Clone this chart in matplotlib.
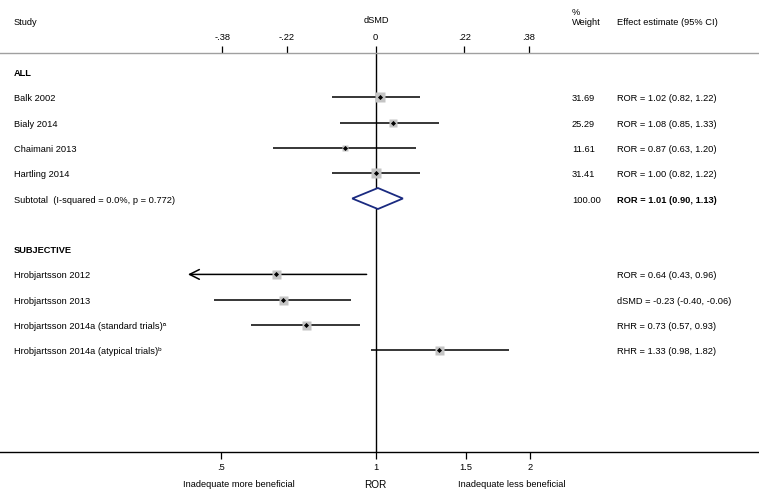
import numpy as np
import matplotlib
matplotlib.use('Agg')
from matplotlib import pyplot as plt
from matplotlib.patches import Polygon
import matplotlib.transforms as mtransforms

plt.rcParams['font.family'] = ['Liberation Sans', 'DejaVu Sans']

# ALL group
studies_all = ['Balk 2002', 'Bialy 2014', 'Chaimani 2013', 'Hartling 2014']
est_all = [1.02, 1.08, 0.87, 1.00]
lo_all = [0.82, 0.85, 0.63, 0.82]
hi_all = [1.22, 1.33, 1.20, 1.22]
weights_all = [31.69, 25.29, 11.61, 31.41]
subtotal_label = 'Subtotal  (I-squared = 0.0%, p = 0.772)'
subtotal = [1.01, 0.90, 1.13]
subtotal_weight = 100.00

# SUBJECTIVE group
studies_subj = ['Hrobjartsson 2012', 'Hrobjartsson 2013',
                'Hrobjartsson 2014a (standard trials)ᵃ',
                'Hrobjartsson 2014a (atypical trials)ᵇ']
measure_subj = ['ROR', 'dSMD', 'RHR', 'RHR']
est_subj = [0.64, -0.23, 0.73, 1.33]
lo_subj = [0.43, -0.40, 0.57, 0.98]
hi_subj = [0.96, -0.06, 0.93, 1.82]

bottom_ticks = [0.5, 1, 1.5, 2]
bottom_ticklabels = ['.5', '1', '1.5', '2']
top_ticks = [-0.38, -0.22, 0, 0.22, 0.38]
top_ticklabels = ['-.38', '-.22', '0', '.22', '.38']

K = np.pi / np.sqrt(3)  # dSMD -> ln(OR)


def to_ratio(v, m):
    return np.exp(v * K) if m == 'dSMD' else v


W, H = 759, 503
XLIM = (0.1848, 5.600)
YLIM = (17.035, -2.846)
fig = plt.figure(figsize=(W / 100, H / 100), dpi=100)
ax = fig.add_axes([0, 0, 1, 1])
ax.set_xscale('log')
ax.set_xlim(*XLIM)
ax.set_ylim(*YLIM)
ax.set_yticks([])
for s in ['left', 'right', 'top']:
    ax.spines[s].set_visible(False)

fs = 6.7
bt = mtransforms.blended_transform_factory(ax.transAxes, ax.transData)
x_study, x_w, x_eff = 14 / W, 572 / W, 617 / W
dy = 0.06

# bottom axis
axis_row = 15.02
ax.spines['bottom'].set_position(('data', axis_row))
ax.spines['bottom'].set_linewidth(1.0)
ax.set_xticks(bottom_ticks)
ax.set_xticklabels(bottom_ticklabels)
ax.xaxis.set_minor_locator(matplotlib.ticker.NullLocator())
ax.tick_params(axis='x', direction='out', length=5, width=0.9, pad=3, labelsize=fs)

# top axis (dSMD), linear in ln(OR)/K
top_row = -0.739
ax2 = fig.add_axes([0, 0, 1, 1], frameon=True)
ax2.patch.set_visible(False)
ax2.set_xlim(np.log(XLIM[0]) / K, np.log(XLIM[1]) / K)
ax2.set_ylim(*YLIM)
ax2.set_yticks([])
for s in ['left', 'right', 'bottom']:
    ax2.spines[s].set_visible(False)
ax2.spines['top'].set_position(('data', top_row))
ax2.spines['top'].set_color('#a0a0a0')
ax2.spines['top'].set_linewidth(1.0)
ax2.xaxis.tick_top()
ax2.set_xticks(top_ticks)
ax2.set_xticklabels(top_ticklabels)
ax2.tick_params(axis='x', direction='out', length=5, width=0.9, pad=3, labelsize=fs)

# null line
ax.vlines(1, top_row, axis_row, color='black', lw=1.0, zorder=1)

# headers
ax.text(x_study, -1.937, 'Study', transform=bt, fontsize=fs, va='center')
ax.text(376 / W, -2.055, 'dSMD', transform=bt, fontsize=fs, va='center', ha='center')
ax.text(x_w, -2.37, '%', transform=bt, fontsize=fs, va='center')
ax.text(x_w, -1.937, 'Weight', transform=bt, fontsize=fs, va='center')
ax.text(x_eff, -1.937, 'Effect estimate (95% CI)', transform=bt, fontsize=fs, va='center')

box_color = '#c4c4c4'
ci_lw = 1.1


def draw_study(row, e, lo, hi, side_px, arrow=False):
    if arrow:
        ax.annotate('', xy=(lo, row), xytext=(hi, row),
                    arrowprops=dict(arrowstyle='->,head_length=0.7,head_width=0.35',
                                    lw=ci_lw, color='black', shrinkA=0, shrinkB=0))
    else:
        ax.plot([lo, hi], [row, row], color='black', lw=ci_lw, zorder=2,
                solid_capstyle='butt')
    ax.plot(e, row, marker='s', ms=side_px * 0.72, color=box_color, mec='none', zorder=3)
    ax.plot(e, row, marker='D', ms=2.6, color='black', mec='none', zorder=4)


# ALL
ax.text(x_study, 0 + dy, 'ALL', transform=bt, fontsize=fs, va='center', fontweight='bold')
for i, name in enumerate(studies_all):
    row = i + 1
    ax.text(x_study, row + dy, name, transform=bt, fontsize=fs, va='center')
    draw_study(row, est_all[i], lo_all[i], hi_all[i], 1.78 * np.sqrt(weights_all[i]))
    ax.text(x_w, row + dy, f'{weights_all[i]:.2f}', transform=bt, fontsize=fs, va='center')
    ax.text(x_eff, row + dy, f'ROR = {est_all[i]:.2f} ({lo_all[i]:.2f}, {hi_all[i]:.2f})',
            transform=bt, fontsize=fs, va='center')

row = 5
ax.text(x_study, row + dy, subtotal_label, transform=bt, fontsize=fs, va='center')
e, lo, hi = subtotal
hh = 0.415
ax.add_patch(Polygon([(lo, row), (e, row - hh), (hi, row), (e, row + hh)], closed=True,
                     facecolor='white', edgecolor='#1a2a80', lw=1.3, zorder=3))
ax.text(x_w, row + dy, f'{subtotal_weight:.2f}', transform=bt, fontsize=fs, va='center')
ax.text(x_eff, row + dy, f'ROR = {e:.2f} ({lo:.2f}, {hi:.2f})', transform=bt,
        fontsize=fs, va='center', fontweight='bold')

# SUBJECTIVE
axis_min = 0.45
ax.text(x_study, 7 + dy, 'SUBJECTIVE', transform=bt, fontsize=fs, va='center',
        fontweight='bold')
for i, name in enumerate(studies_subj):
    row = 8 + i
    m = measure_subj[i]
    e, lo, hi = (to_ratio(v, m) for v in (est_subj[i], lo_subj[i], hi_subj[i]))
    ax.text(x_study, row + dy, name, transform=bt, fontsize=fs, va='center')
    draw_study(row, e, lo, hi, 9, arrow=lo < axis_min)
    ax.text(x_eff, row + dy, f'{m} = {est_subj[i]:.2f} ({lo_subj[i]:.2f}, {hi_subj[i]:.2f})',
            transform=bt, fontsize=fs, va='center')

# bottom labels
ax.text(1, 16.32, 'ROR', fontsize=7.2, ha='center', va='center')
ax.text(238.5 / W, 16.32, 'Inadequate more beneficial', transform=bt, fontsize=fs,
        ha='center', va='center')
ax.text(511.5 / W, 16.32, 'Inadequate less beneficial', transform=bt, fontsize=fs,
        ha='center', va='center')

fig.savefig('out.png', dpi=100)
